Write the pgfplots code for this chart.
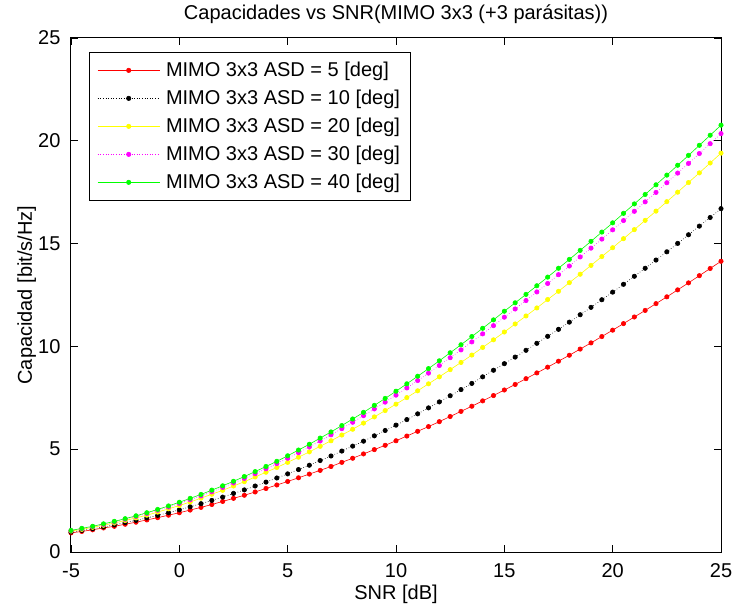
\documentclass[border=0pt]{standalone}
\usepackage{fontspec}
\setmainfont{Liberation Sans}
\usepackage{pgfplots}
\usepackage{pgfplotstable}
\pgfplotsset{compat=1.18}

% snr, ASD = 5, 10, 20, 30, 40 deg
\pgfplotstableread{
snr  a5    a10   a20   a30   a40
-5   0.93  0.97  1.02  1.04  1.05
-4.5 1.00  1.05  1.10  1.13  1.15
-4   1.08  1.13  1.20  1.23  1.25
-3.5 1.17  1.22  1.30  1.34  1.37
-3   1.25  1.32  1.41  1.46  1.49
-2.5 1.35  1.43  1.53  1.59  1.62
-2   1.45  1.54  1.66  1.73  1.76
-1.5 1.56  1.66  1.79  1.87  1.91
-1   1.67  1.78  1.94  2.03  2.07
-0.5 1.79  1.91  2.10  2.19  2.24
0    1.91  2.05  2.26  2.36  2.42
0.5  2.04  2.20  2.43  2.54  2.61
1    2.17  2.35  2.62  2.73  2.80
1.5  2.31  2.51  2.81  2.93  3.01
2    2.46  2.67  3.00  3.14  3.22
2.5  2.61  2.85  3.21  3.36  3.44
3    2.76  3.02  3.42  3.58  3.67
3.5  2.92  3.21  3.65  3.81  3.91
4    3.09  3.40  3.88  4.05  4.16
4.5  3.26  3.60  4.11  4.30  4.41
5    3.43  3.80  4.36  4.56  4.68
5.5  3.61  4.01  4.61  4.83  4.96
6    3.79  4.22  4.87  5.11  5.24
6.5  3.97  4.45  5.14  5.40  5.54
7    4.16  4.67  5.41  5.70  5.84
7.5  4.36  4.91  5.69  6.00  6.15
8    4.56  5.15  5.97  6.31  6.47
8.5  4.77  5.39  6.27  6.63  6.79
9    4.98  5.65  6.57  6.96  7.13
9.5  5.19  5.91  6.88  7.29  7.47
10   5.41  6.17  7.19  7.63  7.82
10.5 5.64  6.44  7.51  7.98  8.18
11   5.87  6.72  7.84  8.34  8.55
11.5 6.10  7.01  8.18  8.70  8.92
12   6.34  7.30  8.52  9.07  9.30
12.5 6.59  7.60  8.87  9.45  9.69
13   6.84  7.90  9.22  9.83  10.08
13.5 7.09  8.20  9.58  10.22 10.48
14   7.35  8.52  9.95  10.61 10.88
14.5 7.61  8.84  10.32 11.01 11.29
15   7.88  9.16  10.70 11.42 11.71
15.5 8.15  9.48  11.09 11.82 12.12
16   8.43  9.81  11.48 12.23 12.53
16.5 8.71  10.15 11.87 12.65 12.95
17   8.99  10.49 12.28 13.06 13.37
17.5 9.28  10.83 12.68 13.49 13.80
18   9.57  11.18 13.10 13.91 14.23
18.5 9.87  11.54 13.51 14.35 14.67
19   10.17 11.90 13.94 14.78 15.11
19.5 10.48 12.27 14.37 15.22 15.56
20   10.79 12.64 14.80 15.67 16.01
20.5 11.11 13.02 15.24 16.12 16.47
21   11.43 13.41 15.68 16.57 16.93
21.5 11.75 13.80 16.13 17.03 17.39
22   12.08 14.20 16.58 17.49 17.86
22.5 12.41 14.60 17.04 17.96 18.33
23   12.75 15.01 17.50 18.43 18.81
23.5 13.09 15.43 17.97 18.90 19.29
24   13.44 15.85 18.44 19.38 19.78
24.5 13.79 16.27 18.92 19.86 20.27
25   14.14 16.70 19.40 20.35 20.76
}\capdata

\definecolor{mred}{rgb}{1,0,0}
\definecolor{myel}{rgb}{1,1,0}
\definecolor{mmag}{rgb}{1,0,1}
\definecolor{mgrn}{rgb}{0,1,0}

\begin{document}
\begin{tikzpicture}
\begin{axis}[
  scale only axis,
  width=650pt, height=514pt,
  xmin=-5, xmax=25, ymin=0, ymax=25,
  xtick={-5,0,...,25}, ytick={0,5,...,25},
  tick align=inside, xtick pos=both, ytick pos=both,
  major tick length=7pt,
  axis line style={line width=1pt},
  every tick/.style={black, line width=0.8pt},
  font=\fontsize{20}{24}\selectfont,
  /pgf/number format/assume math mode=true,
  xticklabel style={yshift=-8pt},
  yticklabel style={xshift=-7pt},
  title={Capacidades vs SNR(MIMO 3x3 (+3 parásitas))},
  title style={at={(axis description cs:0.5,1.034)}, anchor=center},
  xlabel={SNR [dB]},
  xlabel style={at={(axis description cs:0.5,-0.082)}, anchor=center},
  ylabel={Capacidad [bit/s/Hz]},
  ylabel style={at={(axis description cs:-0.068,0.5)}, anchor=center, rotate=0},
  legend cell align=left,
  legend style={at={(0.0277,0.9728)}, anchor=north west,
    line width=0.8pt, inner xsep=8pt, inner ysep=8pt, row sep=8pt,
    font=\fontsize{20}{24}\selectfont,
    /tikz/every odd column/.append style={column sep=4pt}},
  legend image code/.code={
    \draw[#1, mark=none] plot coordinates {(0pt,0pt) (62pt,0pt)};
    \draw[#1, only marks] plot coordinates {(31pt,0pt)};
  },
  every axis plot/.append style={line width=0.6pt},
]
\addplot[color=mred, mark=*, mark size=2.2pt] table[x=snr, y=a5] {\capdata};
\addlegendentry{MIMO 3x3 ASD = 5 [deg]}
\addplot[color=black, dotted, mark=*, mark size=2.2pt, mark options={solid}] table[x=snr, y=a10] {\capdata};
\addlegendentry{MIMO 3x3 ASD = 10 [deg]}
\addplot[color=myel, mark=*, mark size=2.2pt] table[x=snr, y=a20] {\capdata};
\addlegendentry{MIMO 3x3 ASD = 20 [deg]}
\addplot[color=mmag, dotted, mark=*, mark size=2.2pt, mark options={solid}] table[x=snr, y=a30] {\capdata};
\addlegendentry{MIMO 3x3 ASD = 30 [deg]}
\addplot[color=mgrn, mark=*, mark size=2.2pt] table[x=snr, y=a40] {\capdata};
\addlegendentry{MIMO 3x3 ASD = 40 [deg]}
\end{axis}
\pgfresetboundingbox
\path (-71pt,-58pt) rectangle (664pt,552pt);
\end{tikzpicture}
\end{document}
